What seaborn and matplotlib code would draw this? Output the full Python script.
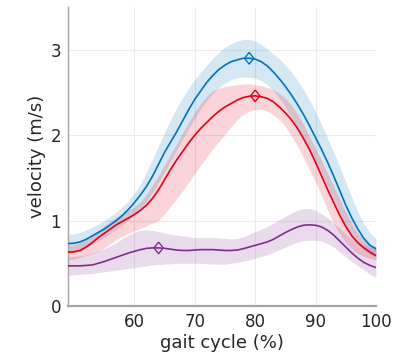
import pandas as pd
import matplotlib
matplotlib.use("Agg")
import matplotlib.pyplot as plt
import seaborn as sns

# gait cycle samples (%), 49..100
gait = list(range(49, 101))

# rows of ten: 49-58, 59-68, 69-78, 79-88, 89-98, 99-100
blue_mean = [0.73, 0.735, 0.75, 0.78, 0.82, 0.86, 0.90, 0.95, 1.00, 1.06,
             1.13, 1.21, 1.30, 1.40, 1.52, 1.66, 1.80, 1.92, 2.04, 2.17,
             2.30, 2.42, 2.52, 2.62, 2.70, 2.77, 2.82, 2.86, 2.88, 2.90,
             2.90, 2.89, 2.86, 2.81, 2.74, 2.66, 2.57, 2.47, 2.36, 2.24,
             2.11, 1.97, 1.83, 1.68, 1.52, 1.35, 1.18, 1.03, 0.90, 0.79,
             0.71, 0.67]
blue_hi = [0.84, 0.845, 0.86, 0.89, 0.92, 0.96, 1.00, 1.05, 1.10, 1.16,
           1.23, 1.32, 1.43, 1.57, 1.72, 1.88, 2.03, 2.18, 2.32, 2.44,
           2.55, 2.65, 2.74, 2.82, 2.90, 2.97, 3.03, 3.07, 3.10, 3.12,
           3.12, 3.10, 3.06, 3.01, 2.95, 2.89, 2.82, 2.74, 2.64, 2.53,
           2.41, 2.27, 2.12, 1.96, 1.80, 1.63, 1.45, 1.27, 1.10, 0.96,
           0.86, 0.79]
blue_lo = [0.62, 0.625, 0.64, 0.68, 0.72, 0.76, 0.80, 0.85, 0.90, 0.95,
           1.01, 1.08, 1.15, 1.23, 1.33, 1.45, 1.57, 1.70, 1.83, 1.96,
           2.08, 2.20, 2.31, 2.41, 2.49, 2.56, 2.61, 2.65, 2.67, 2.68,
           2.68, 2.67, 2.64, 2.59, 2.52, 2.43, 2.33, 2.21, 2.09, 1.96,
           1.83, 1.69, 1.55, 1.40, 1.24, 1.08, 0.94, 0.82, 0.73, 0.66,
           0.61, 0.57]

red_mean = [0.63, 0.635, 0.65, 0.69, 0.74, 0.80, 0.85, 0.90, 0.95, 0.99,
            1.03, 1.07, 1.12, 1.18, 1.26, 1.36, 1.48, 1.60, 1.71, 1.81,
            1.91, 2.00, 2.08, 2.15, 2.22, 2.28, 2.33, 2.37, 2.41, 2.44,
            2.455, 2.46, 2.45, 2.43, 2.39, 2.33, 2.26, 2.18, 2.08, 1.96,
            1.83, 1.68, 1.52, 1.36, 1.21, 1.06, 0.93, 0.82, 0.74, 0.68,
            0.63, 0.59]
red_hi = [0.71, 0.72, 0.74, 0.78, 0.82, 0.88, 0.94, 0.99, 1.04, 1.08,
          1.12, 1.16, 1.22, 1.31, 1.42, 1.53, 1.65, 1.78, 1.90, 2.03,
          2.15, 2.27, 2.37, 2.46, 2.52, 2.55, 2.57, 2.58, 2.59, 2.60,
          2.60, 2.59, 2.58, 2.56, 2.53, 2.49, 2.43, 2.35, 2.25, 2.12,
          1.98, 1.84, 1.70, 1.55, 1.40, 1.25, 1.10, 0.96, 0.85, 0.77,
          0.72, 0.69]
red_lo = [0.54, 0.55, 0.57, 0.59, 0.61, 0.64, 0.68, 0.73, 0.78, 0.82,
          0.85, 0.88, 0.91, 0.94, 0.97, 1.00, 1.08, 1.17, 1.26, 1.35,
          1.45, 1.55, 1.65, 1.75, 1.84, 1.93, 2.01, 2.10, 2.18, 2.24,
          2.28, 2.30, 2.30, 2.28, 2.24, 2.18, 2.10, 1.99, 1.87, 1.74,
          1.60, 1.45, 1.29, 1.12, 0.97, 0.84, 0.74, 0.67, 0.61, 0.58,
          0.555, 0.54]

purple_mean = [0.47, 0.47, 0.47, 0.475, 0.48, 0.50, 0.52, 0.545, 0.57, 0.595,
               0.62, 0.64, 0.66, 0.675, 0.68, 0.68, 0.675, 0.665, 0.655, 0.65,
               0.65, 0.655, 0.66, 0.66, 0.66, 0.655, 0.65, 0.65, 0.655, 0.67,
               0.69, 0.71, 0.73, 0.75, 0.78, 0.82, 0.86, 0.895, 0.925, 0.945,
               0.95, 0.945, 0.925, 0.885, 0.83, 0.76, 0.69, 0.62, 0.56, 0.51,
               0.475, 0.45]
purple_hi = [0.57, 0.58, 0.59, 0.60, 0.62, 0.645, 0.67, 0.705, 0.74, 0.79,
             0.83, 0.865, 0.885, 0.89, 0.885, 0.87, 0.855, 0.84, 0.83, 0.82,
             0.81, 0.80, 0.80, 0.80, 0.80, 0.795, 0.79, 0.785, 0.79, 0.81,
             0.84, 0.87, 0.90, 0.93, 0.97, 1.01, 1.05, 1.09, 1.12, 1.14,
             1.14, 1.12, 1.08, 1.03, 0.97, 0.91, 0.84, 0.78, 0.74, 0.71,
             0.69, 0.67]
purple_lo = [0.36, 0.365, 0.37, 0.375, 0.38, 0.39, 0.40, 0.41, 0.42, 0.43,
             0.44, 0.45, 0.46, 0.47, 0.48, 0.485, 0.49, 0.495, 0.50, 0.50,
             0.50, 0.50, 0.50, 0.495, 0.49, 0.49, 0.49, 0.50, 0.51, 0.525,
             0.54, 0.56, 0.58, 0.60, 0.63, 0.66, 0.69, 0.72, 0.75, 0.765,
             0.77, 0.77, 0.76, 0.73, 0.69, 0.63, 0.57, 0.52, 0.47, 0.42,
             0.37, 0.34]

# open diamond markers
peak_group = ["blue", "red", "purple"]
peak_gait = [79, 80, 64]
peak_vel = [2.90, 2.46, 0.68]

colors = {"blue": "#0072BD", "red": "#E3001B", "purple": "#7E2F8E"}

series = {
    "blue": (blue_mean, blue_lo, blue_hi),
    "red": (red_mean, red_lo, red_hi),
    "purple": (purple_mean, purple_lo, purple_hi),
}

rows = []
for name, (m, lo, hi) in series.items():
    for g, v, l, h in zip(gait, m, lo, hi, strict=True):
        rows.append(dict(group=name, gait=g, vel=v, lo=l, hi=h))
df = pd.DataFrame(rows)
peaks = pd.DataFrame(dict(group=peak_group, gait=peak_gait, vel=peak_vel))

sns.set_style("white")
plt.rcParams["font.family"] = ["DejaVu Sans"]

fig = plt.figure(figsize=(3.96, 3.52), dpi=100)
ax = fig.add_axes([0.1717, 0.1307, 0.7778, 0.8494])

for name in ["blue", "red", "purple"]:
    sub = df[df.group == name]
    ax.fill_between(sub.gait, sub.lo, sub.hi, color=colors[name], alpha=0.17, lw=0, zorder=1)

sns.lineplot(data=df, x="gait", y="vel", hue="group", palette=colors,
             hue_order=["blue", "red", "purple"], linewidth=1.2, legend=False,
             ax=ax, zorder=3)

diamond = [(0, 1), (0.8, 0), (0, -1), (-0.8, 0), (0, 1)]
for _, r in peaks.iterrows():
    ax.scatter(r.gait, r.vel, marker=diamond, s=70, facecolors="none",
               edgecolors=colors[r.group], linewidths=1.0, zorder=4)

ax.set_xlim(49, 100)
ax.set_ylim(0, 3.5)
ax.set_xticks([60, 70, 80, 90, 100])
ax.set_yticks([0, 1, 2, 3])
ax.grid(True, color="#EBEBEB", linewidth=0.8)
ax.set_axisbelow(True)
for s in ["top", "right"]:
    ax.spines[s].set_visible(False)
ax.spines["left"].set_color("#A6A6A6")
ax.spines["bottom"].set_color("#A6A6A6")
ax.spines["left"].set_linewidth(1.0)
ax.spines["bottom"].set_linewidth(1.6)
ax.tick_params(direction="in", length=3, color="#A6A6A6", labelsize=12,
               labelcolor="#262626", pad=5)
ax.set_xlabel("gait cycle (%)", fontsize=13, color="#262626", labelpad=2)
ax.set_ylabel("velocity (m/s)", fontsize=13, color="#262626", labelpad=3)

fig.savefig("out.png", dpi=100)
